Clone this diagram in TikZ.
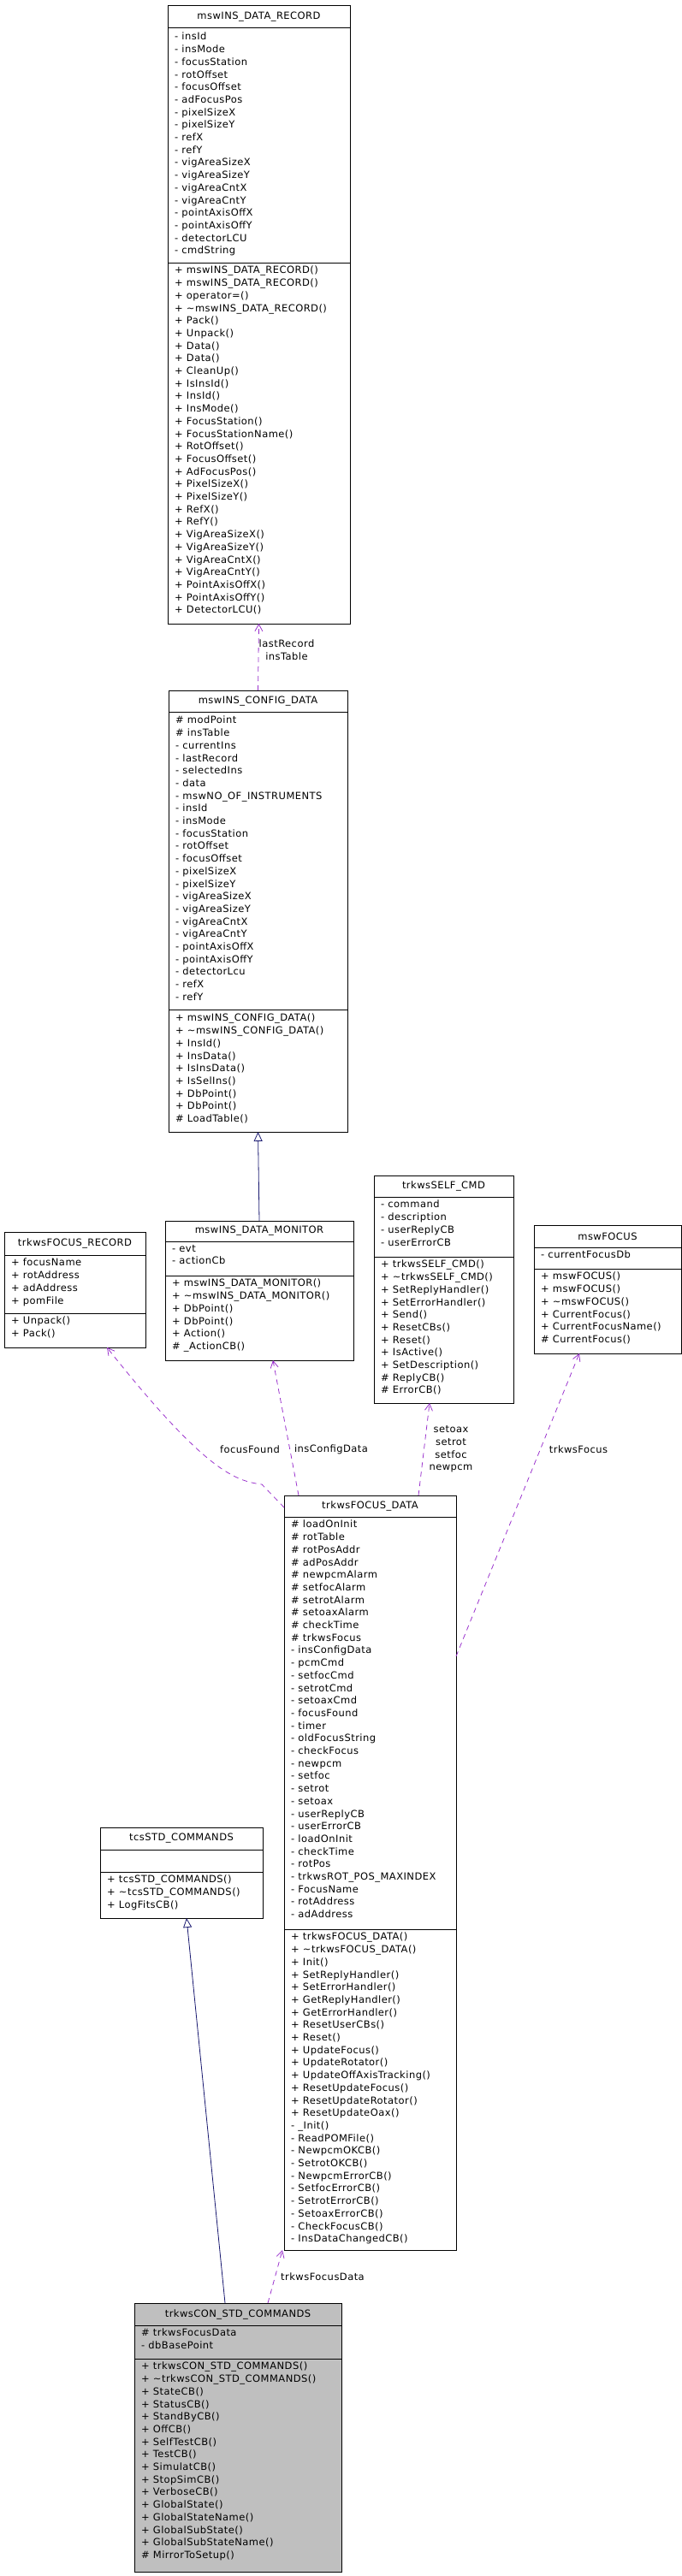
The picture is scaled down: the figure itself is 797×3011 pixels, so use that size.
\documentclass[tikz,border=0pt]{standalone}
\usepackage{fontspec}
\setmainfont{DejaVu Sans}[LetterSpace=4]
\usetikzlibrary{arrows.meta,calc}
\definecolor{linkpurple}{HTML}{9A32CD}
\definecolor{inhnavy}{HTML}{191970}
\tikzset{
  box/.style={draw, line width=1pt, inner sep=0pt, outer sep=0pt},
  members/.style={anchor=north west, align=left, inner sep=0pt, font=\fontsize{11.5}{14.7}\selectfont},
  title/.style={inner sep=0pt, font=\fontsize{11.5}{12}\selectfont},
  uses/.style={linkpurple, line width=0.8pt, dash pattern=on 6pt off 5pt, -{Straight Barb[length=8pt,width=9pt]}},
  inherits/.style={inhnavy, line width=0.8pt, -{Triangle[open,length=11pt,width=10pt]}},
  lbl/.style={align=center, inner sep=0pt, font=\fontsize{11.5}{14.7}\selectfont}
}
% #2 name, #3 x1, #4 x2, #5 top, #6 sep1, #7 sep2, #8 bottom, #9 title
\newcommand{\classbox}[9][]{%
  \node[box, #1, minimum width={(#4-#3)*1pt}, minimum height={(#8-#5)*1pt}, anchor=north west] (#2) at (#3,#5) {};
  \draw[line width=1pt] (#3,#6) -- (#4,#6) (#3,#7) -- (#4,#7);
  \node[title] at ({(#3+#4)/2},{(#5+#6)/2}) {#9};}
\begin{document}
\begin{tikzpicture}[x=1pt,y=-1pt]
\useasboundingbox (0,0) rectangle (797,3011);

% mswINS_DATA_RECORD
\classbox{rec}{196}{409}{7}{33}{307}{729}{mswINS\_DATA\_RECORD}
\node[members] at (204,38) {- insId\\- insMode\\- focusStation\\- rotOffset\\- focusOffset\\- adFocusPos\\- pixelSizeX\\- pixelSizeY\\- refX\\- refY\\- vigAreaSizeX\\- vigAreaSizeY\\- vigAreaCntX\\- vigAreaCntY\\- pointAxisOffX\\- pointAxisOffY\\- detectorLCU\\- cmdString};
\node[members] at (204,311) {+ mswINS\_DATA\_RECORD()\\+ mswINS\_DATA\_RECORD()\\+ operator=()\\+ \textasciitilde mswINS\_DATA\_RECORD()\\+ Pack()\\+ Unpack()\\+ Data()\\+ Data()\\+ CleanUp()\\+ IsInsId()\\+ InsId()\\+ InsMode()\\+ FocusStation()\\+ FocusStationName()\\+ RotOffset()\\+ FocusOffset()\\+ AdFocusPos()\\+ PixelSizeX()\\+ PixelSizeY()\\+ RefX()\\+ RefY()\\+ VigAreaSizeX()\\+ VigAreaSizeY()\\+ VigAreaCntX()\\+ VigAreaCntY()\\+ PointAxisOffX()\\+ PointAxisOffY()\\+ DetectorLCU()};

% mswINS_CONFIG_DATA
\classbox{conf}{197}{406}{807}{832}{1180}{1323}{mswINS\_CONFIG\_DATA}
\node[members] at (205,837) {\# modPoint\\\# insTable\\- currentIns\\- lastRecord\\- selectedIns\\- data\\- mswNO\_OF\_INSTRUMENTS\\- insId\\- insMode\\- focusStation\\- rotOffset\\- focusOffset\\- pixelSizeX\\- pixelSizeY\\- vigAreaSizeX\\- vigAreaSizeY\\- vigAreaCntX\\- vigAreaCntY\\- pointAxisOffX\\- pointAxisOffY\\- detectorLcu\\- refX\\- refY};
\node[members] at (205,1185) {+ mswINS\_CONFIG\_DATA()\\+ \textasciitilde mswINS\_CONFIG\_DATA()\\+ InsId()\\+ InsData()\\+ IsInsData()\\+ IsSelIns()\\+ DbPoint()\\+ DbPoint()\\\# LoadTable()};

% trkwsFOCUS_RECORD
\classbox{frec}{5}{170}{1440}{1467}{1535}{1575}{trkwsFOCUS\_RECORD}
\node[members] at (13,1471) {+ focusName\\+ rotAddress\\+ adAddress\\+ pomFile};
\node[members] at (13,1539) {+ Unpack()\\+ Pack()};

% mswINS_DATA_MONITOR
\classbox{mon}{193}{413}{1427}{1451}{1491}{1590}{mswINS\_DATA\_MONITOR}
\node[members] at (201,1455) {- evt\\- actionCb};
\node[members] at (201,1495) {+ mswINS\_DATA\_MONITOR()\\+ \textasciitilde mswINS\_DATA\_MONITOR()\\+ DbPoint()\\+ DbPoint()\\+ Action()\\\# \_ActionCB()};

% trkwsSELF_CMD
\classbox{self}{437}{600}{1374}{1399}{1469}{1640}{trkwsSELF\_CMD}
\node[members] at (445,1403) {- command\\- description\\- userReplyCB\\- userErrorCB};
\node[members] at (445,1473) {+ trkwsSELF\_CMD()\\+ \textasciitilde trkwsSELF\_CMD()\\+ SetReplyHandler()\\+ SetErrorHandler()\\+ Send()\\+ ResetCBs()\\+ Reset()\\+ IsActive()\\+ SetDescription()\\\# ReplyCB()\\\# ErrorCB()};

% mswFOCUS
\classbox{mfoc}{624}{796}{1432}{1458}{1483}{1582}{mswFOCUS}
\node[members] at (632,1462) {- currentFocusDb};
\node[members] at (632,1487) {+ mswFOCUS()\\+ mswFOCUS()\\+ \textasciitilde mswFOCUS()\\+ CurrentFocus()\\+ CurrentFocusName()\\\# CurrentFocus()};

% trkwsFOCUS_DATA
\classbox{fdata}{332}{533}{1748}{1773}{2255}{2630}{trkwsFOCUS\_DATA}
\node[members] at (340,1777) {\# loadOnInit\\\# rotTable\\\# rotPosAddr\\\# adPosAddr\\\# newpcmAlarm\\\# setfocAlarm\\\# setrotAlarm\\\# setoaxAlarm\\\# checkTime\\\# trkwsFocus\\- insConfigData\\- pcmCmd\\- setfocCmd\\- setrotCmd\\- setoaxCmd\\- focusFound\\- timer\\- oldFocusString\\- checkFocus\\- newpcm\\- setfoc\\- setrot\\- setoax\\- userReplyCB\\- userErrorCB\\- loadOnInit\\- checkTime\\- rotPos\\- trkwsROT\_POS\_MAXINDEX\\- FocusName\\- rotAddress\\- adAddress};
\node[members] at (340,2259) {+ trkwsFOCUS\_DATA()\\+ \textasciitilde trkwsFOCUS\_DATA()\\+ Init()\\+ SetReplyHandler()\\+ SetErrorHandler()\\+ GetReplyHandler()\\+ GetErrorHandler()\\+ ResetUserCBs()\\+ Reset()\\+ UpdateFocus()\\+ UpdateRotator()\\+ UpdateOffAxisTracking()\\+ ResetUpdateFocus()\\+ ResetUpdateRotator()\\+ ResetUpdateOax()\\- \_Init()\\- ReadPOMFile()\\- NewpcmOKCB()\\- SetrotOKCB()\\- NewpcmErrorCB()\\- SetfocErrorCB()\\- SetrotErrorCB()\\- SetoaxErrorCB()\\- CheckFocusCB()\\- InsDataChangedCB()};

% tcsSTD_COMMANDS
\classbox{std}{117}{307}{2136}{2162}{2188}{2242}{tcsSTD\_COMMANDS}
\node[members] at (125,2192) {+ tcsSTD\_COMMANDS()\\+ \textasciitilde tcsSTD\_COMMANDS()\\+ LogFitsCB()};

% trkwsCON_STD_COMMANDS
\classbox[fill=black!25]{con}{157}{399}{2692}{2718}{2757}{3006}{trkwsCON\_STD\_COMMANDS}
\node[members] at (165,2722) {\# trkwsFocusData\\- dbBasePoint};
\node[members] at (165,2761) {+ trkwsCON\_STD\_COMMANDS()\\+ \textasciitilde trkwsCON\_STD\_COMMANDS()\\+ StateCB()\\+ StatusCB()\\+ StandByCB()\\+ OffCB()\\+ SelfTestCB()\\+ TestCB()\\+ SimulatCB()\\+ StopSimCB()\\+ VerboseCB()\\+ GlobalState()\\+ GlobalStateName()\\+ GlobalSubState()\\+ GlobalSubStateName()\\\# MirrorToSetup()};

% links
\draw[uses] (conf.north) -- (rec.south);
\node[lbl] at (335,760) {lastRecord\\insTable};
\draw[inherits] (mon.north) -- (conf.south);
\draw[uses] ($(fdata.north west)+(0,14)$) -- (306,1735) .. controls (275,1731) and (240,1720) .. ($(frec.south west)+(120,0)$);
\node[lbl] at (292,1694) {focusFound};
\draw[uses] ($(fdata.north west)+(17,0)$) -- ($(mon.south west)+(126,0)$);
\node[lbl] at (387,1694) {insConfigData};
\draw[uses] ($(fdata.north west)+(157,0)$) -- ($(self.south west)+(65,0)$);
\node[lbl] at (527,1694) {setoax\\setrot\\setfoc\\newpcm};
\draw[uses] ($(fdata.north east)+(0,188)$) -- ($(mfoc.south west)+(53,0)$);
\node[lbl] at (676,1694) {trkwsFocus};
\draw[inherits] ($(con.north west)+(106,0)$) -- ($(std.south west)+(101,0)$);
\draw[uses] ($(con.north west)+(156,0)$) -- ($(fdata.south west)+(-2,0)$);
\node[lbl] at (377,2661) {trkwsFocusData};
\end{tikzpicture}
\end{document}
